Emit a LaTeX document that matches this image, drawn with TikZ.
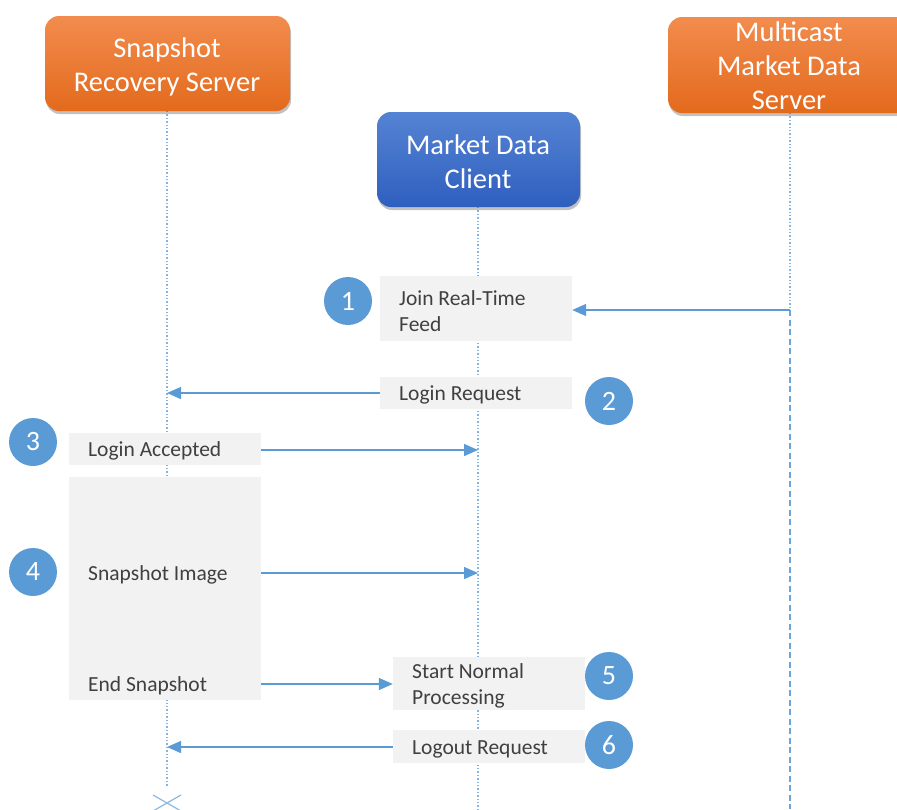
\documentclass[tikz,border=0pt]{standalone}
\usepackage{fontspec}
\setmainfont{Carlito}
\usetikzlibrary{shadows,arrows.meta,calc}
\definecolor{orgtop}{HTML}{F28C4E}
\definecolor{orgbot}{HTML}{E36A1C}
\definecolor{bluetop}{HTML}{5583D3}
\definecolor{bluebot}{HTML}{2F5FBF}
\definecolor{accent}{HTML}{5B9BD5}
\definecolor{msgbg}{HTML}{F2F2F2}
\definecolor{txt}{HTML}{404040}
\begin{document}
\begin{tikzpicture}[x=1pt,y=-1pt,
  header/.style={rounded corners=14pt, drop shadow={shadow xshift=1pt,shadow yshift=-3pt,opacity=0.35,fill=black!70}, inner sep=0pt},
  hdrtext/.style={text=white, font=\fontsize{28.5}{34}\selectfont, align=center, inner sep=0pt},
  orangehdr/.style={header, top color=orgtop, bottom color=orgbot},
  bluehdr/.style={header, top color=bluetop, bottom color=bluebot},
  msgbox/.style={fill=msgbg, draw=none, inner sep=0pt},
  msgtext/.style={text=txt, font=\fontsize{21.5}{26}\selectfont, align=left, anchor=west, inner sep=0pt},
  stepnum/.style={circle, fill=accent, text=white, minimum size=48pt, inner sep=0pt, font=\fontsize{28}{28}\selectfont},
  lifedot/.style={accent!75, line width=1.4pt, dotted},
  lifedash/.style={accent!90, line width=1.4pt, dash pattern=on 6pt off 3.5pt},
  msg/.style={accent, line width=1.4pt, -{Triangle[length=14pt,width=12pt]}}
]
\useasboundingbox (0,0) rectangle (897,809);
% lifeline coordinates
\coordinate (srstop) at (167,111);
\coordinate (srsend) at (167,787);
\coordinate (mdctop) at (478,207);
\coordinate (mdcend) at (478,809);
\coordinate (mmdtop) at (790,113);
\coordinate (mmdmid) at (790,310);
\coordinate (mmdend) at (790,809);
\draw[lifedot] (srstop) -- (srsend);
\draw[lifedot] (mdctop) -- (mdcend);
\draw[lifedot] (mmdtop) -- (mmdmid);
\draw[lifedash] (mmdmid) -- (mmdend);
% X terminator
\coordinate (xc) at (167,803);
\draw[accent!70, line width=1.2pt] ($(xc)+(-14,-8)$) -- ($(xc)+(14,8)$) ($(xc)+(-14,8)$) -- ($(xc)+(14,-8)$);
% headers
\node[orangehdr, minimum width=245pt, minimum height=95pt] (srs) at (167.5,63.5) {};
\node[hdrtext] (srst) at (167,66.5) {Snapshot\\Recovery Server};
\node[bluehdr, minimum width=203pt, minimum height=95pt] (mdc) at (478.5,159.5) {};
\node[hdrtext] (mdct) at (478,162) {Market Data\\Client};
\node[orangehdr, minimum width=245pt, minimum height=96pt] (mmd) at (790.5,65) {};
\node[hdrtext] (mmdt) at (789,65.5) {Multicast\\Market Data\\Server};
% message boxes
\node[msgbox, minimum width=192pt, minimum height=65pt] (b1) at (476,308.5) {};
\node[msgtext] (t1) at (399,311) {Join Real-Time\\Feed};
\node[msgbox, minimum width=192pt, minimum height=32pt] (b2) at (476,393) {};
\node[msgtext] (t2) at (399,395) {Login Request};
\node[msgbox, minimum width=192pt, minimum height=32pt] (b3) at (165,449) {};
\node[msgtext] (t3) at (88,451) {Login Accepted};
\node[msgbox, minimum width=192pt, minimum height=223pt] (b4) at (165,588.5) {};
\node[msgtext] (t4) at (88,575) {Snapshot Image};
\node[msgtext] (t4b) at (88,686) {End Snapshot};
\node[msgbox, minimum width=192pt, minimum height=53pt] (b5) at (489,683.5) {};
\node[msgtext] (t5) at (412,686) {Start Normal\\Processing};
\node[msgbox, minimum width=192pt, minimum height=33pt] (b6) at (489,746.5) {};
\node[msgtext] (t6) at (412,749) {Logout Request};
% message arrows
\coordinate (a1s) at (790,310);
\coordinate (a2e) at (167,393);
\coordinate (a3e) at (478,450);
\coordinate (a4e) at (478,573);
\coordinate (a5e) at (393,684);
\coordinate (a6e) at (167,747);
\draw[msg] (a1s) -- (b1.east |- a1s);
\draw[msg] (b2.west |- a2e) -- (a2e);
\draw[msg] (b3.east |- a3e) -- (a3e);
\draw[msg] (b4.east |- a4e) -- (a4e);
\draw[msg] (b4.east |- a5e) -- (b5.west |- a5e);
\draw[msg] (b6.west |- a6e) -- (a6e);
% step numbers
\node[stepnum] (n1) at (348,301) {1};
\node[stepnum] (n2) at (609,401) {2};
\node[stepnum] (n3) at (33,442) {3};
\node[stepnum] (n4) at (33,572) {4};
\node[stepnum] (n5) at (609,676) {5};
\node[stepnum] (n6) at (609,745) {6};
\end{tikzpicture}
\end{document}
